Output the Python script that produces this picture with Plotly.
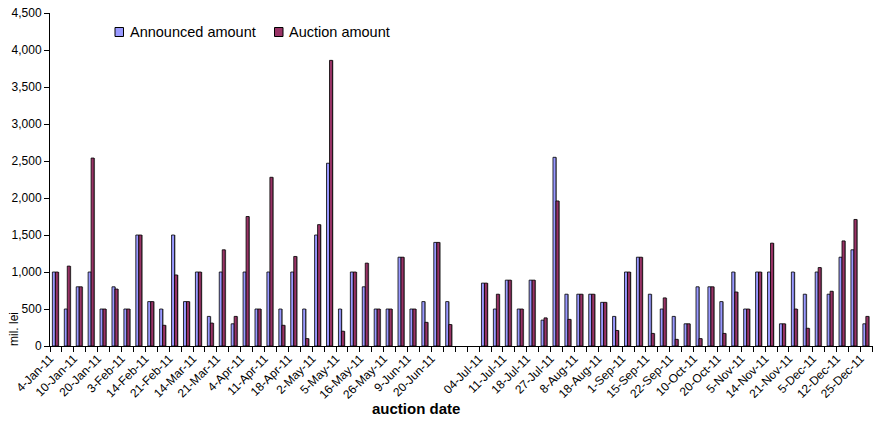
import plotly.graph_objects as go

# Treasury auctions 2011: announced vs. auctioned amounts (mil. lei)
announced = [1000, 500, 800, 1000, 500, 800, 500, 1500, 600, 500,
             1500, 600, 1000, 400, 1000, 300, 1000, 500, 1000, 500,
             1000, 500, 1500, 2470, 500, 1000, 800, 500, 500, 1200,
             500, 600, 1400, 600, None, None, 850, 500, 890, 500,
             890, 350, 2550, 700, 700, 700, 590, 400, 1000, 1200,
             700, 500, 400, 300, 800, 800, 600, 1000, 500, 1000,
             1000, 300, 1000, 700, 1000, 700, 1200, 1300, 300]
auctioned = [1000, 1080, 800, 2540, 500, 770, 500, 1500, 600, 280,
             960, 600, 1000, 310, 1300, 400, 1750, 500, 2280, 280,
             1210, 100, 1640, 3860, 200, 1000, 1120, 500, 500, 1200,
             500, 320, 1400, 290, None, None, 850, 700, 890, 500,
             890, 380, 1960, 360, 700, 700, 590, 210, 1000, 1200,
             170, 650, 90, 300, 100, 800, 170, 730, 500, 1000,
             1390, 300, 500, 240, 1060, 740, 1420, 1710, 400]

# every other auction date is printed on the axis
date_labels = ["4-Jan-11", "10-Jan-11", "20-Jan-11", "3-Feb-11", "14-Feb-11",
               "21-Feb-11", "14-Mar-11", "21-Mar-11", "4-Apr-11", "11-Apr-11",
               "18-Apr-11", "2-May-11", "5-May-11", "16-May-11", "26-May-11",
               "9-Jun-11", "20-Jun-11", "", "04-Jul-11", "11-Jul-11",
               "18-Jul-11", "27-Jul-11", "8-Aug-11", "18-Aug-11", "1-Sep-11",
               "15-Sep-11", "22-Sep-11", "10-Oct-11", "20-Oct-11", "5-Nov-11",
               "14-Nov-11", "21-Nov-11", "5-Dec-11", "12-Dec-11", "25-Dec-11"]

n = len(announced)
x = list(range(n))
# rotated labels end at the left boundary of their category slot
label_pos = [i - 0.5 for i in range(0, n, 2)]

BLUE = "#9999FF"
RED = "#993366"
SHADOW = "#8c8c8c"
FONT = "Liberation Sans, Arial, sans-serif"

W, H = 873, 445
ML, MR, MT, MB = 50, 0, 13, 99
PW = W - ML - MR
PH = H - MT - MB


def px(xp):
    return (xp - ML) / PW


def py(yp):
    return (H - MB - yp) / PH


bw = 0.25
fig = go.Figure()
# drop shadows behind each series
for vals, off in ((announced, -0.22), (auctioned, 0.03)):
    fig.add_trace(go.Bar(x=x, y=vals, width=bw, offset=off,
                         marker=dict(color=SHADOW, line=dict(width=0)),
                         showlegend=False, hoverinfo="skip"))
fig.add_trace(go.Bar(x=x, y=announced, width=bw, offset=-0.3, name="Announced amount",
                     marker=dict(color=BLUE, line=dict(color="black", width=0.8)),
                     showlegend=False))
fig.add_trace(go.Bar(x=x, y=auctioned, width=bw, offset=-0.05, name="Auction amount",
                     marker=dict(color=RED, line=dict(color="black", width=0.8)),
                     showlegend=False))

fig.update_layout(
    width=W, height=H,
    margin=dict(l=ML, r=MR, t=MT, b=MB, pad=0),
    paper_bgcolor="white", plot_bgcolor="white",
    barmode="overlay",
    font=dict(family=FONT, size=12, color="black"),
    xaxis=dict(
        range=[-0.5, n - 0.45],
        tickmode="array", tickvals=label_pos, ticktext=date_labels,
        tickangle=-45, ticks="", showgrid=False, zeroline=False,
        showline=True, linecolor="black", linewidth=1,
        tickfont=dict(size=12), ticklabeloverflow="allow",
        minor=dict(tickmode="linear", tick0=-0.5, dtick=1, ticks="outside",
                   ticklen=5, tickcolor="black", tickwidth=1, showgrid=False),
    ),
    yaxis=dict(
        range=[0, 4500], dtick=500, tickformat=",d",
        ticks="outside", ticklen=5, tickcolor="black",
        showgrid=False, zeroline=False,
        showline=True, linecolor="black", linewidth=1,
        tickfont=dict(size=12),
    ),
)

# legend keys
legend_items = [("Announced amount", BLUE, 115, 128), ("Auction amount", RED, 274.5, 287)]
for text, col, sx, tx in legend_items:
    fig.add_shape(type="rect", xref="paper", yref="paper",
                  x0=px(sx), x1=px(sx + 8.5), y0=py(36.5), y1=py(27.5),
                  fillcolor=col, line=dict(color="black", width=1))
    fig.add_annotation(text=text, xref="paper", yref="paper", x=px(tx), y=py(32),
                       xanchor="left", yanchor="middle", showarrow=False,
                       font=dict(size=14.5, family=FONT, color="black"))

# axis titles
fig.add_annotation(text="mil. lei", xref="paper", yref="paper", x=px(14), y=py(329),
                   textangle=-90, xanchor="center", yanchor="middle", showarrow=False,
                   font=dict(size=12, family=FONT, color="black"))
fig.add_annotation(text="<b>auction date</b>", xref="paper", yref="paper", x=px(416), y=py(408),
                   xanchor="center", yanchor="middle", showarrow=False,
                   font=dict(size=15, family=FONT, color="black"))

fig.write_html("out.html")
